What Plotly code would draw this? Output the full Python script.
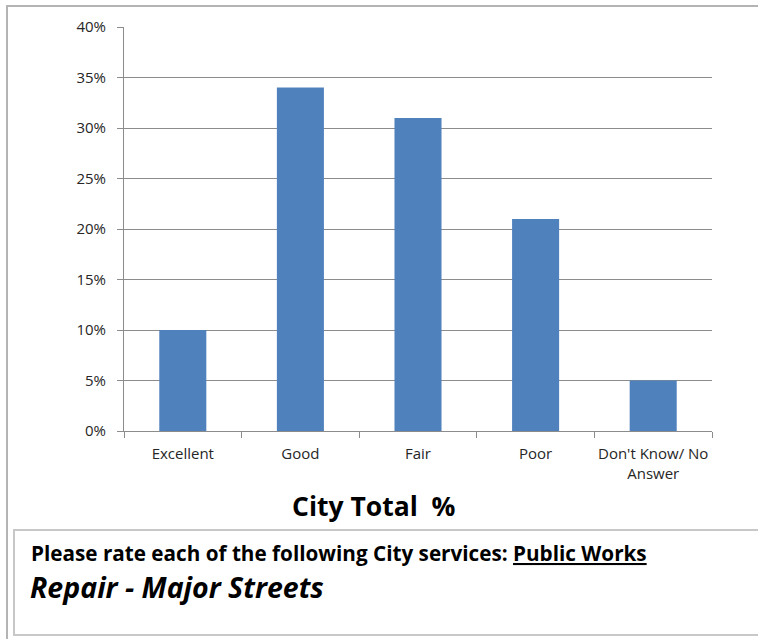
import plotly.graph_objects as go

# Survey responses, city total
categories = ["Excellent", "Good", "Fair", "Poor", "Don't Know/ No<br>Answer"]
shares = [0.10, 0.34, 0.31, 0.21, 0.05]
y_ticks = [0, 0.05, 0.10, 0.15, 0.20, 0.25, 0.30, 0.35, 0.40]
y_tick_labels = ["0%", "5%", "10%", "15%", "20%", "25%", "30%", "35%", "40%"]

chart_title = "City Total  %"
question = "Please rate each of the following City services: <span style='text-decoration:underline'>Public Works</span>"
service = "Repair - Major Streets"

W, H = 758, 639
L, R, T, B = 124, 46, 27, 208
PW, PH = W - L - R, H - T - B


def px(x):
    return (x - L) / PW


def py(y):
    return (H - B - y) / PH


GRID = "#8C8C8C"
FRAME = "#B4B4B4"
FONT = "'Open Sans', 'Noto Sans', sans-serif"

fig = go.Figure(
    go.Bar(
        x=categories,
        y=shares,
        marker=dict(color="#4F81BD", line=dict(width=0)),
        hoverinfo="skip",
    )
)

fig.update_layout(
    width=W,
    height=H,
    margin=dict(l=L, r=R, t=T, b=B, autoexpand=False),
    paper_bgcolor="white",
    plot_bgcolor="white",
    bargap=0.6,
    showlegend=False,
    font=dict(family=FONT, color="#262626"),
)

fig.update_yaxes(
    range=[0, 0.40],
    tickvals=y_ticks,
    ticktext=y_tick_labels,
    showgrid=True,
    gridcolor=GRID,
    gridwidth=1,
    showline=True,
    linecolor=GRID,
    linewidth=1,
    ticks="outside",
    ticklen=6,
    tickcolor=GRID,
    tickfont=dict(size=15, color="#262626"),
    zeroline=False,
    ticklabelstandoff=8,
    automargin=False,
)

fig.update_xaxes(
    showgrid=False,
    showline=True,
    linecolor=GRID,
    linewidth=1,
    ticks="outside",
    tickson="boundaries",
    ticklen=6,
    tickcolor=GRID,
    tickangle=0,
    tickfont=dict(size=15, color="#262626"),
    ticklabelstandoff=9,
    automargin=False,
)

shapes = [
    # outer chart frame (runs off the right and bottom edges)
    dict(type="rect", xref="paper", yref="paper",
         x0=px(7), x1=px(775), y0=py(660), y1=py(6),
         line=dict(color=FRAME, width=2), layer="below"),
    # caption box
    dict(type="rect", xref="paper", yref="paper",
         x0=px(14), x1=px(775), y0=py(635), y1=py(530),
         line=dict(color="#C8C8C8", width=2), layer="below"),
]

annotations = [
    dict(text=f"<b>{chart_title}</b>", xref="paper", yref="paper",
         x=px(374), y=py(506), xanchor="center", yanchor="middle",
         showarrow=False, font=dict(size=26.5, color="#000000", family=FONT)),
    dict(text=f"<b>{question}</b>", xref="paper", yref="paper",
         x=px(29), y=py(553), xanchor="left", yanchor="middle",
         showarrow=False, font=dict(size=20.7, color="#000000", family=FONT)),
    dict(text=f"<b><i>{service}</i></b>", xref="paper", yref="paper",
         x=px(28), y=py(587), xanchor="left", yanchor="middle",
         showarrow=False, font=dict(size=28.5, color="#000000", family=FONT)),
]

fig.update_layout(shapes=shapes, annotations=annotations)

fig.write_html("out.html")
